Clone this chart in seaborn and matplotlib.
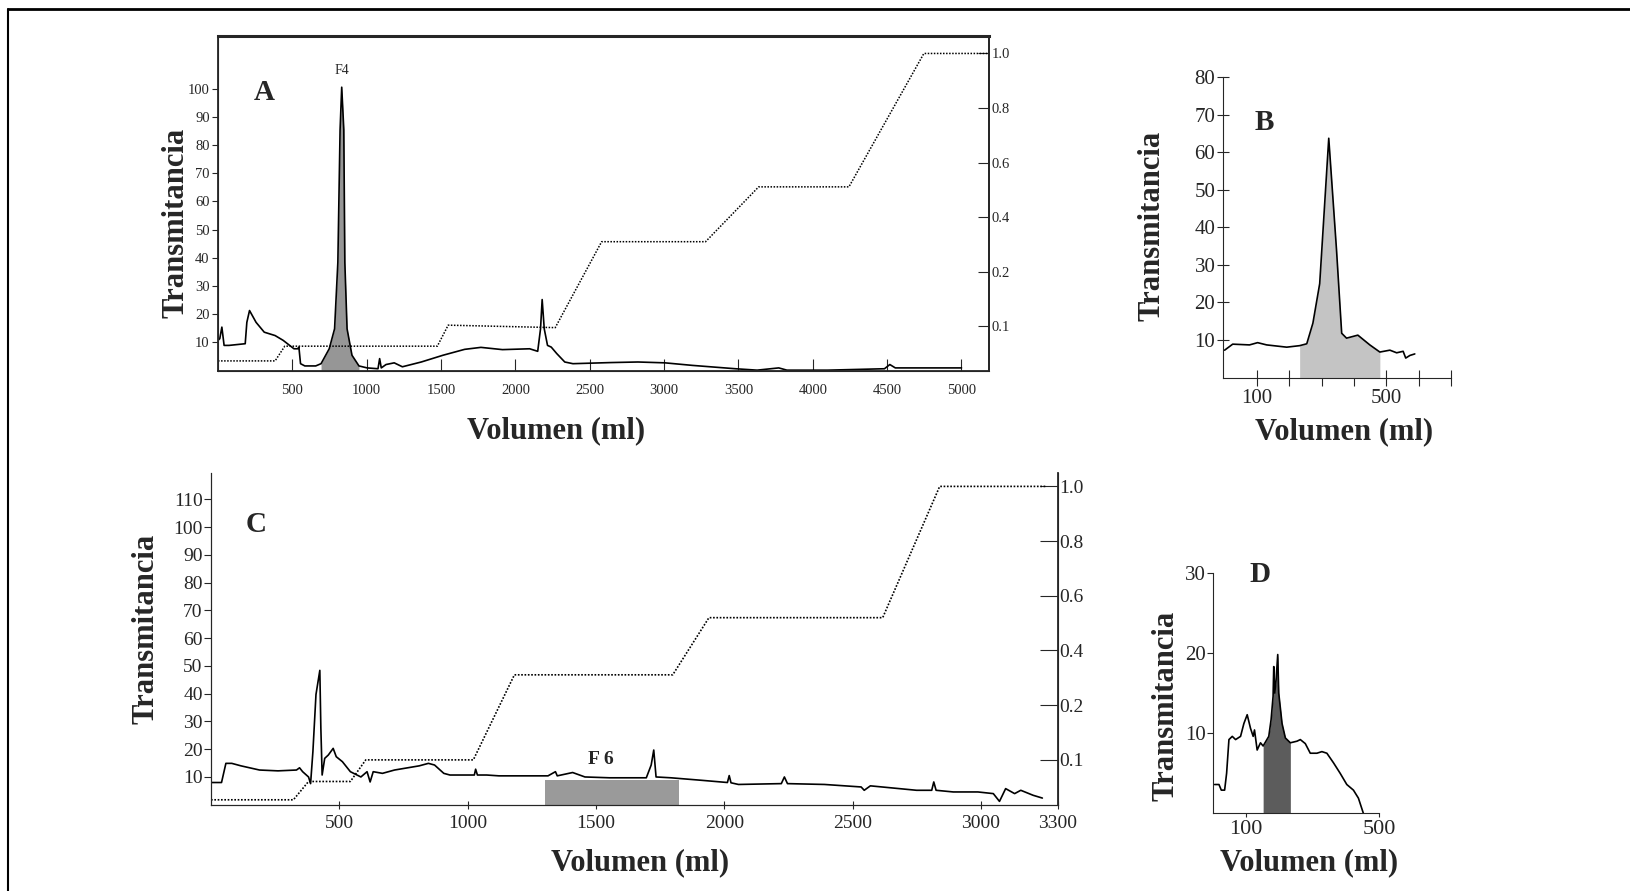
import numpy as np
import pandas as pd
import seaborn as sns
import matplotlib.pyplot as plt
from matplotlib.lines import Line2D

# Panel A: cromatografia principal (volumen ml, transmitancia)
a_vol = [0, 12, 26, 41, 74, 183, 194, 212, 256, 311, 384, 438, 511, 536, 544, 555, 584,
         657, 693, 748, 784, 806, 821, 832, 846, 853, 868, 901, 948, 1003, 1076, 1087,
         1098, 1130, 1185, 1240, 1367, 1513, 1659, 1768, 1913, 2096, 2150, 2169, 2180,
         2194, 2216, 2241, 2278, 2332, 2387, 2642, 2824, 3006, 3189, 3480, 3626, 3771,
         3826, 3881, 4100, 4482, 4518, 4555, 5000]
a_trans = [10.6, 11.2, 15.3, 8.8, 8.8, 9.4, 17.0, 21.2, 17.0, 13.5, 12.3, 10.6, 7.6, 7.6,
           8.2, 2.3, 1.5, 1.5, 2.3, 7.6, 14.7, 38.3, 85.5, 100.6, 85.5, 38.3, 14.7, 5.3,
           1.5, 0.8, 0.5, 4.1, 0.8, 2.0, 2.6, 1.2, 2.9, 5.3, 7.4, 8.1, 7.3, 7.6, 6.7,
           14.7, 25.1, 14.7, 8.8, 8.2, 5.9, 2.9, 2.3, 2.7, 2.9, 2.6, 1.7, 0.5, 0.0, 0.8,
           0.0, 0.0, 0.0, 0.5, 2.0, 0.8, 0.8]
a_grad_vol = [0, 384, 449, 1475, 1548, 2268, 2580, 3279, 3636, 4243, 4747, 5180]
a_grad = [-0.127, -0.127, -0.073, -0.073, 0.004, -0.005, 0.31, 0.31, 0.511, 0.511, 1.0, 1.0]
a_f4 = (693, 948)

# Panel B
b_vol = [0, 25, 77, 102, 130, 192, 232, 254, 273, 294, 322, 346, 362, 377, 412, 449,
         480, 511, 532, 552, 560, 573, 588]
b_trans = [7.3, 8.9, 8.7, 9.3, 8.7, 8.1, 8.5, 9.0, 14.5, 25.0, 63.7, 34.0, 11.8, 10.5,
           11.3, 8.7, 6.8, 7.3, 6.6, 7.0, 5.2, 5.9, 6.3]
b_shade = (232, 480)

# Panel C
c_vol = [0, 41, 58, 81, 117, 189, 261, 333, 345, 357, 380, 388, 397, 409, 424, 428, 433,
         443, 457, 476, 488, 512, 543, 584, 608, 620, 632, 668, 715, 811, 847, 871, 907,
         931, 1026, 1031, 1038, 1074, 1122, 1313, 1342, 1349, 1409, 1457, 1553, 1696,
         1715, 1725, 1734, 1792, 1911, 2012, 2019, 2026, 2055, 2222, 2234, 2246, 2390,
         2533, 2545, 2569, 2749, 2808, 2816, 2825, 2892, 2988, 3048, 3072, 3096, 3131,
         3155, 3203, 3239]
c_trans = [8.0, 8.0, 14.9, 14.9, 14.0, 12.5, 12.2, 12.5, 13.3, 11.9, 10.0, 7.6, 19.1,
           39.7, 48.4, 27.6, 10.7, 16.7, 17.9, 20.3, 17.3, 15.5, 11.9, 10.0, 11.9, 8.2,
           11.9, 11.3, 12.5, 14.0, 14.9, 14.3, 11.3, 10.7, 10.7, 12.8, 10.7, 10.7, 10.4,
           10.4, 11.9, 10.4, 11.6, 10.0, 9.7, 9.7, 14.3, 19.7, 10.0, 9.7, 8.8, 8.0, 10.5,
           7.9, 7.3, 7.6, 10.0, 7.6, 7.3, 6.4, 5.2, 6.8, 5.2, 5.2, 8.2, 5.2, 4.6, 4.6,
           4.0, 1.2, 5.8, 4.0, 5.2, 3.4, 2.4]
c_grad_vol = [0, 321, 380, 543, 603, 1022, 1182, 1799, 1940, 2617, 2839, 3251]
c_grad = [-0.146, -0.146, -0.079, -0.079, 0.0, 0.0, 0.311, 0.311, 0.52, 0.52, 1.0, 1.0]
c_f6 = (1300, 1822)
c_f6_top = 9.0

# Panel D
d_vol = [5, 18, 25, 35, 41, 48, 58, 68, 83, 93, 103, 113, 121, 125, 133, 143, 151, 168,
         175, 181, 183, 186, 190, 195, 198, 208, 218, 233, 253, 263, 278, 293, 313, 328,
         343, 363, 383, 403, 423, 438, 453]
d_trans = [3.6, 3.6, 2.9, 2.9, 5.0, 9.2, 9.6, 9.2, 9.6, 11.2, 12.3, 10.6, 9.6, 10.4, 7.9,
           8.8, 8.4, 9.6, 11.7, 14.6, 18.3, 15.0, 16.6, 19.8, 15.0, 11.2, 9.4, 8.8, 9.0,
           9.2, 8.7, 7.5, 7.5, 7.7, 7.5, 6.3, 5.0, 3.6, 2.9, 1.9, 0.0]
d_shade = (151, 233)

grad_ticks = [0, 0.2, 0.4, 0.6, 0.8, 1.0]
grad_labels = ['0.1', '0.2', '0.4', '0.6', '0.8', '1.0']

sns.set_style("ticks")
plt.rcParams['font.family'] = ['Liberation Serif', 'DejaVu Serif']

W, H = 1631, 891
fig = plt.figure(figsize=(W / 100, H / 100), dpi=100)


def box(l, t, r, b):
    return [l / W, 1 - b / H, (r - l) / W, (b - t) / H]


def ftxt(x, y, s, size=22, weight='bold', **kw):
    fig.text(x / W, 1 - y / H, s, ha='center', va='center', fontsize=size,
             fontweight=weight, **kw)


def curve(ax, x, y):
    sns.lineplot(x=x, y=y, ax=ax, color='black', lw=1.2, estimator=None, sort=False,
                 legend=False)


def shade(ax, x, y, rng, color):
    x = np.array(x); y = np.array(y)
    m = (x >= rng[0]) & (x <= rng[1])
    ax.fill_between(x[m], 0, y[m], color=color, lw=0)


# ---- A ----
axA = fig.add_axes(box(218, 36, 989, 371))
shade(axA, a_vol, a_trans, a_f4, '#969696')
curve(axA, a_vol, a_trans)
axA.set_xlim(0, 5185)
axA.set_ylim(-0.3, 118.8)
axA.set_xticks(range(500, 5001, 500))
axA.set_yticks(range(10, 101, 10))
axA.tick_params(axis='x', direction='in', length=9, labelsize=10.5, pad=9)
axA.tick_params(axis='y', direction='out', length=4, labelsize=10.5, pad=2)
for s in axA.spines.values():
    s.set_linewidth(1.3)
axA.spines['top'].set_linewidth(2.2)
axA.set_xlabel(''); axA.set_ylabel('')
axA2 = axA.twinx()
sns.lineplot(x=a_grad_vol, y=a_grad, ax=axA2, color='black', lw=1.1,
             linestyle=(0, (1, 1)), estimator=None, sort=False)
axA2.set_ylim(-0.164, 1.064)
axA2.set_yticks(grad_ticks, grad_labels)
axA2.tick_params(axis='y', direction='in', length=8, labelsize=10.5, pad=2)
axA2.spines['right'].set_linewidth(1.3)
axA2.set_ylabel('')

# ---- B ----
axB = fig.add_axes(box(1223, 77, 1451, 377.6))
shade(axB, b_vol, b_trans, b_shade, '#c4c4c4')
curve(axB, b_vol, b_trans)
axB.set_xlim(-5, 700)
axB.set_ylim(0, 80)
axB.set_xticks(range(100, 701, 100), ['100', '', '', '', '500', '', ''])
axB.set_yticks(range(10, 81, 10))
axB.tick_params(axis='x', direction='inout', length=12, labelsize=15, pad=2)
axB.tick_params(axis='y', direction='inout', length=9, labelsize=15, pad=1)
sns.despine(ax=axB)
axB.set_xlabel(''); axB.set_ylabel('')

# ---- C ----
axC = fig.add_axes(box(211, 473, 1058, 805))
axC.fill_between(list(c_f6), 0, c_f6_top, color='#9a9a9a', lw=0)
curve(axC, c_vol, c_trans)
axC.set_xlim(0, 3300)
axC.set_ylim(-0.1, 119.5)
axC.set_xticks(list(range(500, 3001, 500)) + [3300])
axC.set_yticks(range(10, 111, 10))
axC.tick_params(axis='x', direction='inout', length=6, labelsize=14, pad=4)
axC.tick_params(axis='y', direction='out', length=5, labelsize=14, pad=1)
axC.spines['top'].set_visible(False)
axC.set_xlabel(''); axC.set_ylabel('')
axC2 = axC.twinx()
sns.lineplot(x=c_grad_vol, y=c_grad, ax=axC2, color='black', lw=1.2,
             linestyle=(0, (1, 1)), estimator=None, sort=False)
axC2.set_ylim(-0.165, 1.049)
axC2.set_yticks(grad_ticks, grad_labels)
axC2.tick_params(axis='y', direction='in', length=13, labelsize=14, pad=1)
axC2.spines['top'].set_visible(False)
axC2.spines['right'].set_linewidth(1.3)
axC2.set_ylabel('')

# ---- D ----
axD = fig.add_axes(box(1213, 572.7, 1379, 813.4))
shade(axD, d_vol, d_trans, d_shade, '#5c5c5c')
curve(axD, d_vol, d_trans)
axD.set_xlim(0, 500)
axD.set_ylim(0, 30)
axD.set_xticks([100, 500])
axD.set_yticks([10, 20, 30])
axD.tick_params(axis='x', direction='out', length=3, labelsize=16, pad=2)
axD.tick_params(axis='y', direction='out', length=4, labelsize=15, pad=1)
sns.despine(ax=axD)
axD.set_xlabel(''); axD.set_ylabel('')

# ---- textos ----
ftxt(176, 223, 'Transmitancia', rotation=90)
ftxt(556, 431, 'Volumen (ml)')
ftxt(264, 92, 'A', size=21)
ftxt(342, 71, 'F4', size=10, weight='normal')

ftxt(1152, 226, 'Transmitancia', rotation=90)
ftxt(1344, 432, 'Volumen (ml)')
ftxt(1264, 122, 'B', size=21)

ftxt(146, 629, 'Transmitancia', rotation=90)
ftxt(640, 863, 'Volumen (ml)')
ftxt(256, 524, 'C', size=21)
ftxt(601, 760, 'F 6', size=14)

ftxt(1166, 706, 'Transmitancia', rotation=90)
ftxt(1309, 863, 'Volumen (ml)')
ftxt(1260, 575, 'D', size=21)

# marco de la figura escaneada
fig.add_artist(Line2D([8 / W, 8 / W], [0, 1 - 9 / H], transform=fig.transFigure,
                      color='black', lw=1.5))
fig.add_artist(Line2D([8 / W, 1], [1 - 9 / H, 1 - 9 / H], transform=fig.transFigure,
                      color='black', lw=2))

fig.savefig('out.png', dpi=100)
